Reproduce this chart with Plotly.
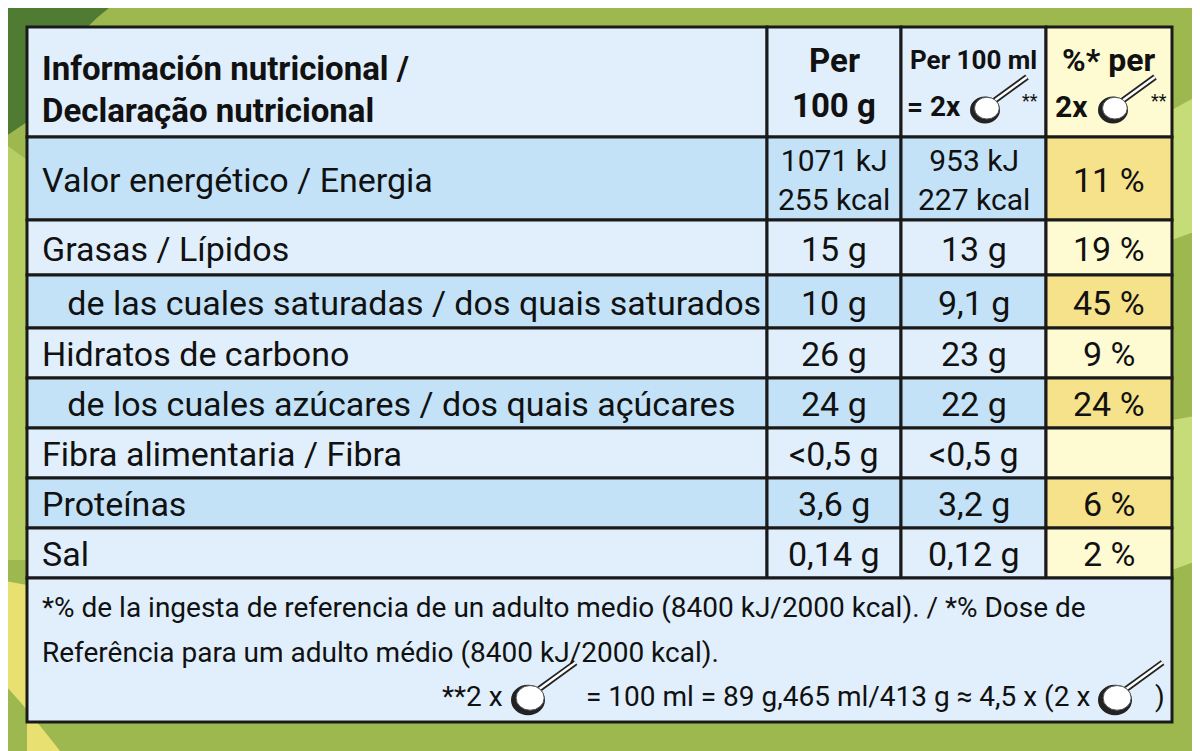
import plotly.graph_objects as go

W, H = 1200, 751

# table geometry (pixels)
col_edges = [27, 767, 901, 1046, 1172]
row_edges = [27, 137, 220, 275, 328, 378, 428, 478, 528, 578, 722]

labels = ['Valor energético / Energia', 'Grasas / Lípidos',
          '   de las cuales saturadas / dos quais saturados', 'Hidratos de carbono',
          '   de los cuales azúcares / dos quais açúcares', 'Fibra alimentaria / Fibra',
          'Proteínas', 'Sal']
per_100g = ['1071 kJ<br>255 kcal', '15 g', '10 g', '26 g', '24 g', '<0,5 g', '3,6 g', '0,14 g']
per_100ml = ['953 kJ<br>227 kcal', '13 g', '9,1 g', '23 g', '22 g', '<0,5 g', '3,2 g', '0,12 g']
pct_ri = ['11 %', '19 %', '45 %', '9 %', '24 %', '', '6 %', '2 %']
shaded = [True, False, True, False, True, False, True, False]

FONT = 'Roboto, Liberation Sans, sans-serif'

fig = go.Figure()
shapes = []
ann = []

# background
shapes.append(dict(type='rect', x0=-20, y0=-20, x1=W + 20, y1=H + 20, fillcolor='#9db84f', line_width=0, layer='below'))
shapes.append(dict(type='path', path='M0,0 L120,0 Q60,40 30,120 L0,140 Z', fillcolor='#4f7b33', line_width=0, layer='below'))
shapes.append(dict(type='path', path='M1172,110 Q1190,100 1200,95 L1200,230 Q1185,235 1172,240 Z', fillcolor='#c6dc78', line_width=0, layer='below'))
shapes.append(dict(type='path', path='M1172,420 L1200,415 L1200,560 L1172,570 Z', fillcolor='#c6dc78', line_width=0, layer='below'))
shapes.append(dict(type='path', path='M0,580 L27,585 L27,751 L60,751 Q20,700 0,680 Z', fillcolor='#e8e070', line_width=0, layer='below'))
shapes.append(dict(type='path', path='M0,140 L27,160 L27,560 L0,560 Z', fillcolor='#b7cf62', line_width=0, layer='below'))

def rect(x0, y0, x1, y1, color):
    shapes.append(dict(type='rect', x0=x0, y0=y0, x1=x1, y1=y1, fillcolor=color,
                       line=dict(color='#1a1a1a', width=3)))

def text(x, y, s, size=35, anchor='center', bold=False):
    if bold:
        s = '<b>' + s + '</b>'
    ann.append(dict(x=x, y=y, text=s, showarrow=False, xanchor=anchor, yanchor='middle',
                    font=dict(family=FONT, size=size, color='#111111')))

def spoon(cx, cy, r):
    hx0, hy0, hx1, hy1 = cx + r * 0.6, cy - r * 0.6, cx + r * 2.8, cy - r * 2.2
    shapes.append(dict(type='line', x0=hx0, y0=hy0, x1=hx1, y1=hy1, line=dict(color='#222222', width=6)))
    shapes.append(dict(type='line', x0=hx0, y0=hy0, x1=hx1, y1=hy1, line=dict(color='#ffffff', width=2.5)))
    shapes.append(dict(type='circle', x0=cx - r, y0=cy - r * 0.9, x1=cx + r, y1=cy + r * 0.9,
                       fillcolor='#222222', line_width=0))
    shapes.append(dict(type='circle', x0=cx - r * 0.7, y0=cy - r * 0.85, x1=cx + r * 0.95, y1=cy + r * 0.6,
                       fillcolor='#ffffff', line=dict(color='#555555', width=1)))

# header
hy0, hy1 = row_edges[0], row_edges[1]
rect(col_edges[0], hy0, col_edges[1], hy1, '#e0effb')
rect(col_edges[1], hy0, col_edges[2], hy1, '#e0effb')
rect(col_edges[2], hy0, col_edges[3], hy1, '#e0effb')
rect(col_edges[3], hy0, col_edges[4], hy1, '#fefbd3')
text(40, 68, 'Información nutricional /', 33, 'left', True)
text(40, 110, 'Declaração nutricional', 33, 'left', True)
cx = (col_edges[1] + col_edges[2]) / 2
text(cx, 60, 'Per', 33, bold=True)
text(cx, 105, '100 g', 33, bold=True)
text(973, 60, 'Per 100 ml', 26, bold=True)
text(905, 106, '= 2x', 28, 'left', True)
spoon(985, 110, 15)
text(1030, 100, '**', 18)
text(1108, 60, '%* per', 32, bold=True)
text(1053, 106, '2x', 30, 'left', True)
spoon(1113, 110, 15)
text(1159, 100, '**', 18)

# body rows
for i, lab in enumerate(labels):
    y0, y1 = row_edges[i + 1], row_edges[i + 2]
    ym = (y0 + y1) / 2 + 1
    blue = '#c3e2f7' if shaded[i] else '#e0effb'
    yel = '#f5e28a' if shaded[i] else '#fefbd3'
    rect(col_edges[0], y0, col_edges[1], y1, blue)
    rect(col_edges[1], y0, col_edges[2], y1, blue)
    rect(col_edges[2], y0, col_edges[3], y1, blue)
    rect(col_edges[3], y0, col_edges[4], y1, yel)
    text(40, ym, lab.replace(' ', '&nbsp;') if lab.startswith(' ') else lab, 34, 'left')
    sz = 30 if i == 0 else 34
    text((col_edges[1] + col_edges[2]) / 2, ym, per_100g[i], sz)
    text((col_edges[2] + col_edges[3]) / 2, ym, per_100ml[i], sz)
    text((col_edges[3] + col_edges[4]) / 2, ym, pct_ri[i], 34)

# footnote
rect(col_edges[0], row_edges[-2], col_edges[4], row_edges[-1], '#e0effb')
text(40, 607, '*% de la ingesta de referencia de un adulto medio (8400 kJ/2000 kcal). / *% Dose de', 28, 'left')
text(40, 652, 'Referência para um adulto médio (8400 kJ/2000 kcal).', 28, 'left')
text(505, 696, '**2 x', 28, 'right')
spoon(528, 700, 17)
text(1092, 696, '= 100 ml = 89 g,465 ml/413 g ≈ 4,5 x (2 x', 28, 'right')
spoon(1115, 700, 17)
text(1153, 696, ')', 28, 'left')

# the page adds an 8px body margin; shift the axis window to compensate
fig.update_layout(width=W, height=H, margin=dict(l=0, r=0, t=0, b=0),
                  shapes=shapes, annotations=ann, showlegend=False,
                  plot_bgcolor='#9db84f', paper_bgcolor='#9db84f',
                  xaxis=dict(range=[8, W + 8], visible=False, fixedrange=True),
                  yaxis=dict(range=[H + 8, 8], visible=False, fixedrange=True))
fig.write_html('out.html')
